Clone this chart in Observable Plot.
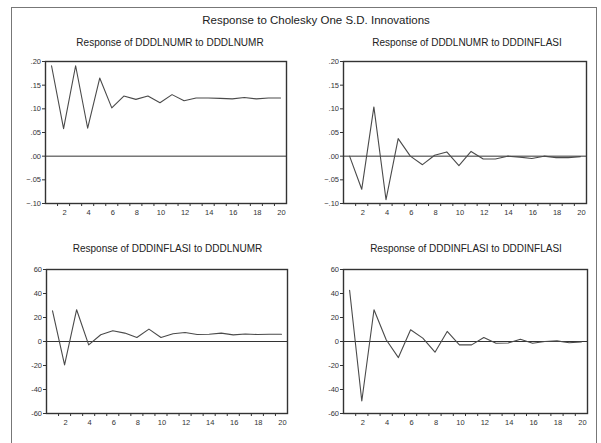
<!DOCTYPE html>
<html>
<head>
<meta charset="utf-8">
<script src="https://cdn.jsdelivr.net/npm/d3@7"></script>
<script src="https://cdn.jsdelivr.net/npm/@observablehq/plot@0.6"></script>
<style>
  html, body { margin: 0; padding: 0; background: #fff; }
  #root { position: relative; width: 601px; height: 443px; overflow: hidden; font-family: "Liberation Sans", Arial, sans-serif; }
  #border { position: absolute; left: 11px; top: 7px; width: 586px; height: 450px; border: 1.5px solid #777; border-bottom: none; box-sizing: border-box; }
  .txt { position: absolute; text-align: center; color: #222; white-space: nowrap; }
  .panel { position: absolute; }
</style>
</head>
<body>
<div id="root"><div id="border"></div></div>
<script>
const mainTitle = "Response to Cholesky One S.D. Innovations";
const panelTitles = [
  "Response of DDDLNUMR to DDDLNUMR",
  "Response of DDDLNUMR to DDDINFLASI",
  "Response of DDDINFLASI to DDDLNUMR",
  "Response of DDDINFLASI to DDDINFLASI"
];
const periods = [1,2,3,4,5,6,7,8,9,10,11,12,13,14,15,16,17,18,19,20];
const numrToNumr = [0.191,0.058,0.191,0.059,0.165,0.102,0.127,0.120,0.127,0.113,0.130,0.117,0.123,0.123,0.122,0.121,0.124,0.121,0.123,0.123];
const numrToInfl = [0.000,-0.070,0.104,-0.092,0.037,0.000,-0.018,0.002,0.009,-0.020,0.010,-0.006,-0.006,0.000,-0.002,-0.005,0.000,-0.003,-0.003,-0.001];
const inflToNumr = [25.5,-19.5,26.5,-2.8,5.6,8.9,7.0,3.3,10.3,3.3,6.4,7.5,5.8,6.0,7.0,5.5,6.3,5.8,6.0,6.0];
const inflToInfl = [42.7,-49.6,26.5,1.5,-13.4,9.8,2.8,-8.9,8.4,-2.8,-2.8,3.3,-1.4,-1.2,1.8,-1.5,0.0,0.5,-1.0,-0.3];
const yTicksTop = [-0.10,-0.05,0.00,0.05,0.10,0.15,0.20];
const yTicksBottom = [-60,-40,-20,0,20,40,60];
const xLabels = [2,4,6,8,10,12,14,16,18,20];

const root = document.getElementById("root");
const fmtTop = d => d3.format(".2f")(d).replace("0.", ".");
const fmtBottom = d => String(d);
const minorTicks = periods.slice(0, -1).map(p => p + 0.5);

function addText(text, cx, cy, size) {
  const el = document.createElement("div");
  el.className = "txt";
  el.textContent = text;
  el.style.left = (cx - 200) + "px";
  el.style.width = "400px";
  el.style.top = (cy - size * 0.6) + "px";
  el.style.fontSize = size + "px";
  el.style.lineHeight = (size * 1.2) + "px";
  root.appendChild(el);
}

function panel(values, yTicks, fmt, pos) {
  const data = periods.map((p, i) => ({period: p, value: values[i]}));
  const yMin = yTicks[0], yMax = yTicks[yTicks.length - 1];
  const chart = Plot.plot({
    width: pos.w, height: pos.h,
    marginLeft: pos.ml, marginRight: pos.mr, marginTop: pos.mt, marginBottom: pos.mb,
    style: {fontFamily: "Liberation Sans, Arial, sans-serif", fontSize: "7.5px", color: "#333", background: "transparent"},
    x: {domain: [0.5, 20.5], label: null},
    y: {domain: [yMin, yMax], label: null},
    marks: [
      Plot.ruleY([0], {stroke: "#333", strokeWidth: 1}),
      Plot.line(data, {x: "period", y: "value", stroke: "#4a4a4a", strokeWidth: 1.1}),
      Plot.axisY({ticks: yTicks, tickFormat: fmt, tickSize: 3, tickPadding: 1.5, stroke: "#333", fill: "#333", label: null}),
      Plot.axisX({ticks: minorTicks, tickFormat: () => "", tickSize: 3, stroke: "#333", label: null}),
      Plot.axisX({ticks: xLabels, tickSize: 0, tickPadding: 6, dx: 1, fill: "#333", label: null}),
      Plot.frame({stroke: "#333", strokeWidth: 1.4})
    ]
  });
  chart.classList.add("panel");
  chart.style.left = pos.left + "px";
  chart.style.top = pos.top + "px";
  root.appendChild(chart);
}

addText(mainTitle, 316, 20.5, 11.5);
addText(panelTitles[0], 170, 43, 10);
addText(panelTitles[1], 467, 43, 10);
addText(panelTitles[2], 167.5, 249, 10);
addText(panelTitles[3], 466, 249, 10);

panel(numrToNumr, yTicksTop, fmtTop, {left: 0, top: 50, w: 300, h: 170, ml: 45, mr: 14, mt: 11, mb: 17});
panel(numrToInfl, yTicksTop, fmtTop, {left: 298, top: 50, w: 300, h: 170, ml: 45, mr: 12, mt: 11, mb: 17});
panel(inflToNumr, yTicksBottom, fmtBottom, {left: 0, top: 258, w: 300, h: 172, ml: 46, mr: 13, mt: 11, mb: 17});
panel(inflToInfl, yTicksBottom, fmtBottom, {left: 298, top: 258, w: 300, h: 172, ml: 45, mr: 11, mt: 11, mb: 17});
</script>
</body>
</html>
